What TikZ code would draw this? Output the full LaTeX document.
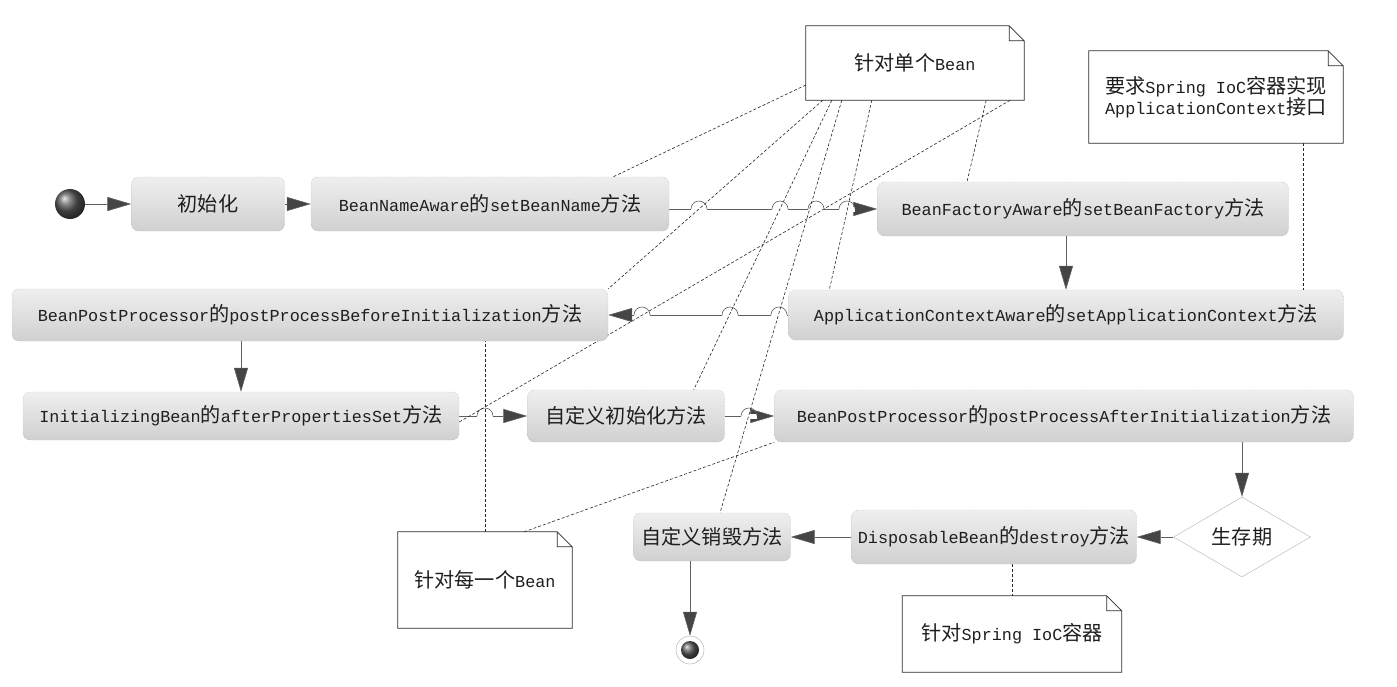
\documentclass[tikz,border=0pt]{standalone}
\usepackage{fontspec}
\setmainfont{Liberation Mono}
\newfontfamily\cjk[Scale=1.2]{Noto Sans CJK SC}
\usetikzlibrary{shapes.geometric, arrows.meta, positioning, calc, backgrounds}
\definecolor{lineg}{HTML}{5E5E5E}
\definecolor{tipg}{HTML}{454545}
\definecolor{boxtop}{HTML}{EFEFEF}
\definecolor{boxbot}{HTML}{D0D0D0}
\definecolor{inkg}{HTML}{1E1E1E}
\newcommand{\zh}[1]{{\cjk #1}}
% a small jump where a flow line passes over a dashed link
\newcommand{\hopat}[2]{%
  \fill[white] (#1-8,#2-2.5) rectangle (#1+8,#2+2.5);
  \draw[lineg, line width=0.6pt] (#1-8,#2) arc[start angle=180, end angle=0, radius=8pt];}

\begin{document}
\begin{tikzpicture}[
  x=1pt, y=-1pt,
  font=\fontsize{16.8}{21}\selectfont,
  act/.style={draw=gray!75, densely dotted, rounded corners=7pt, top color=boxtop, bottom color=boxbot, minimum height=52pt, inner sep=2pt, text=inkg},
  note/.style={fill=white, inner sep=2pt, text=inkg},
  notefrm/.style={draw=gray!35!black, line width=0.8pt},
  flow/.style={draw=lineg, line width=0.6pt, -{Triangle[length=24pt, width=14pt, fill=tipg]}},
  link/.style={draw=gray!30!black, dash pattern=on 3pt off 2pt, line width=0.6pt},
]
  \useasboundingbox (0,0) rectangle (1397,686);

  % activities
  \node[circle, shading=ball, ball color=gray!70!black, minimum size=30pt, inner sep=0pt] (start) at (70,204) {};
  \node[act, minimum width=153pt, minimum height=54pt] (init) at (208,204) {\zh{初始化}};
  \node[act, minimum width=358pt, minimum height=54pt] (bna) at (490,204) {BeanNameAware\zh{的}setBeanName\zh{方法}};
  \node[act, minimum width=411pt, minimum height=54pt] (bfa) at (1083,209) {BeanFactoryAware\zh{的}setBeanFactory\zh{方法}};
  \node[act, minimum width=555pt, minimum height=50pt] (aca) at (1066,315) {ApplicationContextAware\zh{的}setApplicationContext\zh{方法}};
  \node[act, minimum width=596pt] (bppb) at (310,315) {BeanPostProcessor\zh{的}postProcessBeforeInitialization\zh{方法}};
  \node[act, minimum width=436pt, minimum height=48pt] (ib) at (241,416) {InitializingBean\zh{的}afterPropertiesSet\zh{方法}};
  \node[act, minimum width=197pt] (cinit) at (626,416) {\zh{自定义初始化方法}};
  \node[act, minimum width=579pt] (bppa) at (1064,416) {BeanPostProcessor\zh{的}postProcessAfterInitialization\zh{方法}};
  \node[diamond, draw=gray!60, fill=white, minimum width=137pt, minimum height=80pt, inner sep=0pt, text=inkg] (life) at (1242,537) {\zh{生存期}};
  \node[act, minimum width=285pt, minimum height=54pt] (dbd) at (994,537) {DisposableBean\zh{的}destroy\zh{方法}};
  \node[act, minimum width=157pt, minimum height=48pt] (cdest) at (712,537) {\zh{自定义销毁方法}};
  \node[circle, draw=gray!70, fill=white, minimum size=28pt, inner sep=0pt] (finish) at (690,650) {};
  \node[circle, shading=ball, ball color=gray!70!black, minimum size=18pt, inner sep=0pt] (finishdot) at (finish) {};

  % notes
  \node[note, minimum width=218pt, minimum height=74pt] (onebean) at (915,63) {\zh{针对单个}Bean};
  \node[note, minimum width=254pt, minimum height=92pt, align=left] (ctxnote) at (1216,97) {\zh{要求}Spring IoC\zh{容器实现}\\ApplicationContext\zh{接口}};
  \node[note, minimum width=174pt, minimum height=96pt] (allbean) at (485,580) {\zh{针对每一个}Bean};
  \node[note, minimum width=219pt, minimum height=76pt] (iocnote) at (1012,634) {\zh{针对}Spring IoC\zh{容器}};
  \foreach \n in {onebean,ctxnote,allbean,iocnote}
    \draw[notefrm] (\n.north west) -- ([xshift=-15pt]\n.north east) -- ([yshift=-15pt]\n.north east)
      -- (\n.south east) -- (\n.south west) -- cycle
      ([xshift=-15pt]\n.north east) |- ([yshift=-15pt]\n.north east);

  \begin{scope}[on background layer]
    \draw[flow] (start) -- (init);
    \draw[flow] (init) -- (bna);
    \draw[flow] (bna.east |- bfa.west) -- (bfa.west);
    \draw[flow] (bfa.south -| aca.north) -- (aca.north);
    \draw[flow] (aca) -- (bppb);
    \draw[flow] (bppb.south -| ib.north) -- (ib.north);
    \draw[flow] (ib) -- (cinit);
    \draw[flow] (cinit) -- (bppa);
    \draw[flow] (bppa.south -| life.north) -- (life.north);
    \draw[flow] (life) -- (dbd);
    \draw[flow] (dbd) -- (cdest);
    \draw[flow] (cdest.south -| finish.north) -- (finish.north);

    \foreach \hx in {699,780,816,847} {\hopat{\hx}{209}}
    \foreach \hx in {642,730,779} {\hopat{\hx}{315}}
    \foreach \hx in {485,749} {\hopat{\hx}{416}}

    \draw[link] ([yshift=-22pt]onebean.west) -- ([xshift=-56pt]bna.north east);
    \draw[link] ([xshift=17pt]onebean.south west) -- (bppb.north east);
    \draw[link] ([xshift=26pt]onebean.south west) -- ([xshift=-31pt]cinit.north east);
    \draw[link] ([xshift=36pt]onebean.south west) -- ([xshift=8pt]cdest.north);
    \draw[link] ([xshift=66pt]onebean.south west) -- ([xshift=41pt]aca.north west);
    \draw[link] ([xshift=-38pt]onebean.south east) -- ([xshift=-116pt]bfa.north);
    \draw[link] ([xshift=-14pt]onebean.south east) -- ([yshift=-6pt]ib.east);
    \draw[link] (allbean.north) -- (allbean.north |- bppb.south);
    \draw[link] ([xshift=39pt]allbean.north) -- (bppa.south west);
    \draw[link] ([xshift=87pt]ctxnote.south) -- ([xshift=237pt]aca.north);
    \draw[link] (dbd.south -| iocnote.north) -- (iocnote.north);
  \end{scope}
\end{tikzpicture}
\end{document}
